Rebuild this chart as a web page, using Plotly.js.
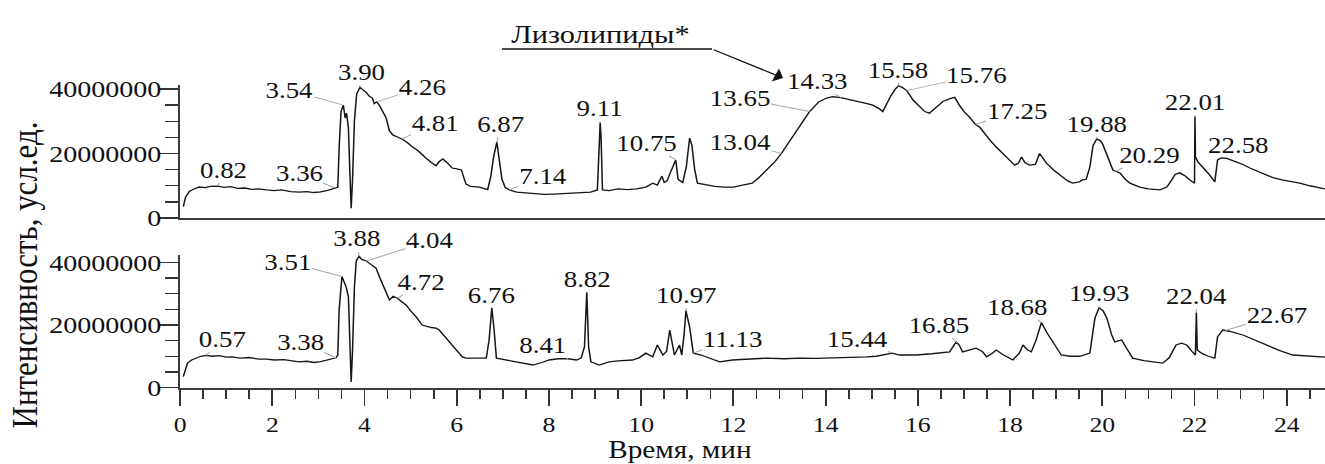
<!DOCTYPE html>
<html>
<head>
<meta charset="utf-8">
<script src="https://cdn.plot.ly/plotly-3.0.1.min.js"></script>
<style>
html,body{margin:0;padding:0;background:#fff;overflow:hidden;width:1325px;height:464px;}
#chart{width:1133px;height:464px;transform-origin:0 0;}
</style>
</head>
<body>
<div id="chart"></div>
<script>
// ---------------- DATA (time in min, intensity in millions of units) ----------------
const topTime = [0.07,0.12,0.20,0.30,0.41,0.55,0.65,0.82,0.95,1.10,1.25,1.40,1.55,1.70,1.87,2.05,2.20,2.40,2.58,2.75,2.90,3.05,3.20,3.30,3.36,3.42,3.45,3.49,3.54,3.58,3.61,3.65,3.68,3.71,3.74,3.78,3.83,3.90,3.96,4.03,4.10,4.17,4.21,4.26,4.32,4.40,4.47,4.54,4.62,4.70,4.81,4.92,5.04,5.15,5.25,5.33,5.45,5.55,5.62,5.70,5.80,5.90,6.00,6.10,6.20,6.30,6.49,6.60,6.67,6.74,6.80,6.87,6.92,6.98,7.05,7.14,7.30,7.50,7.70,7.90,8.10,8.30,8.50,8.70,8.90,9.05,9.09,9.11,9.13,9.16,9.30,9.50,9.70,9.90,10.10,10.25,10.35,10.45,10.50,10.56,10.63,10.75,10.80,10.90,10.98,11.05,11.10,11.16,11.22,11.35,11.45,11.60,11.80,12.00,12.20,12.41,12.55,12.71,12.90,13.04,13.20,13.43,13.65,13.72,13.85,14.02,14.15,14.33,14.50,14.74,14.90,15.02,15.15,15.24,15.32,15.40,15.50,15.58,15.66,15.76,15.90,16.04,16.15,16.25,16.40,16.55,16.70,16.80,16.90,17.00,17.12,17.25,17.34,17.45,17.56,17.70,17.84,17.95,18.10,18.18,18.25,18.32,18.42,18.55,18.64,18.72,18.79,18.95,19.14,19.25,19.36,19.50,19.57,19.65,19.73,19.80,19.88,19.95,20.00,20.10,20.23,20.29,20.38,20.50,20.60,20.81,21.00,21.25,21.40,21.46,21.58,21.68,21.80,21.90,22.00,22.01,22.02,22.07,22.18,22.30,22.44,22.50,22.58,22.70,22.90,23.05,23.20,23.40,23.56,23.70,23.90,24.10,24.28,24.50,24.72,24.83];
const topIntensity = [3.5,6.5,8.2,9.0,9.6,9.4,9.8,9.9,9.5,9.7,9.2,9.3,8.9,9.0,8.7,8.5,8.7,8.2,8.0,8.2,7.9,8.1,8.6,9.0,9.3,9.5,22,33,35,31,32.5,28,15,3.0,12,30,38.5,40.5,39.8,39.0,37.8,37.2,35.5,36.0,35.0,33,31,27,25.7,25.2,24.5,23.5,22.0,21.0,19.5,18.6,17.2,16.2,17.5,18.3,17.0,15.5,15.2,14.9,10.5,9.8,9.6,9.2,8.8,13,19,23.5,19,12,9.5,8.7,8.0,7.7,7.6,7.3,7.4,7.6,7.6,7.8,8.0,8.7,25,29.5,25,8.7,8.5,9.0,8.8,9.0,9.6,10.8,10.2,13.0,11.0,11.5,14,18.0,12,11,16,24.8,22.5,15,10.8,10.5,10.2,9.8,9.6,9.6,10.2,10.8,12.5,14.9,17.5,20.0,23.5,28.2,33.0,34,36,37.2,37.6,37.3,36.8,36.0,35.5,35.0,34.0,33.0,35.5,37.5,39.8,41.0,40.5,39.5,36.5,34.4,33.0,32.5,34.4,36.2,37.0,37.4,35.0,33.0,31.3,29.0,28.2,26.0,24.2,22.0,20.2,18.5,16.4,17,18.9,17.2,16.4,16.6,20.0,18.5,17.0,14.8,12.7,11.5,10.8,11.2,11.8,12.0,15.8,22.5,24.5,24.0,23.2,19.5,14.9,14.5,14.0,12.0,10.8,9.6,9.0,8.7,9.6,10.8,13.5,14.0,13.0,11.8,10.8,31.5,19.0,17.5,15.8,13.8,11.2,18.0,18.6,18.5,17.4,16.6,15.5,14.2,13.3,12.5,11.8,11.3,10.8,10.0,9.3,9.0];

const botTime = [0.07,0.12,0.16,0.25,0.35,0.45,0.57,0.70,0.85,1.00,1.13,1.30,1.50,1.70,1.87,2.05,2.25,2.40,2.58,2.75,2.90,3.05,3.20,3.30,3.38,3.42,3.45,3.51,3.56,3.60,3.65,3.68,3.71,3.74,3.78,3.82,3.88,3.94,4.04,4.10,4.18,4.25,4.32,4.38,4.46,4.54,4.62,4.72,4.80,4.90,5.00,5.12,5.25,5.35,5.45,5.55,5.62,5.70,5.77,5.90,6.00,6.12,6.20,6.40,6.64,6.70,6.76,6.81,6.86,7.00,7.28,7.45,7.65,7.85,8.00,8.20,8.41,8.60,8.70,8.77,8.82,8.86,8.91,9.09,9.30,9.50,9.81,9.95,10.10,10.25,10.35,10.47,10.55,10.62,10.72,10.83,10.88,10.93,10.97,11.05,11.13,11.30,11.41,11.55,11.70,11.98,12.30,12.71,13.10,13.43,13.80,14.15,14.50,14.89,15.10,15.24,15.44,15.60,15.97,16.30,16.69,16.83,16.90,16.97,17.10,17.26,17.40,17.49,17.60,17.70,17.85,18.06,18.20,18.28,18.38,18.46,18.56,18.68,18.80,18.86,18.98,19.11,19.30,19.51,19.73,19.84,19.93,20.02,20.10,20.20,20.27,20.42,20.55,20.66,20.90,21.10,21.31,21.45,21.60,21.72,21.83,21.95,22.02,22.04,22.06,22.15,22.30,22.44,22.50,22.61,22.75,23.05,23.30,23.56,23.85,24.13,24.45,24.78,24.83];
const botIntensity = [3.5,6.5,7.8,8.8,9.4,10.0,10.3,10.0,10.2,9.7,9.8,9.4,9.6,9.1,9.1,8.8,8.9,8.5,8.2,8.4,8.0,8.3,8.8,9.2,9.5,10.4,25,35.5,33.5,32.2,29,15,1.8,12,32,40.5,42.0,41.0,40.5,39.8,39.0,38.2,35.5,33.4,31,28.0,29.2,28.5,27.5,26.4,24.5,22.6,20.0,19.5,19.2,19.0,18.4,17,15.8,13.6,12,9.8,9.4,9.5,9.4,15,25.5,18.4,9.4,9.0,8.2,7.8,7.2,8.0,8.8,9.2,9.2,8.8,9.5,13,30.5,13,8.2,7.2,8.2,8.5,8.8,9.5,11.0,9.8,13.6,10.4,11.5,18.4,10.4,13.6,10.4,17,24.5,19.4,11.0,10.4,9.8,9.0,8.2,8.8,9.0,9.4,9.2,9.4,9.3,9.4,9.5,9.8,10.0,10.4,11.0,10.4,10.4,10.8,11.4,14.6,13.5,11.4,12.0,12.6,11.5,9.8,10.8,12.0,10.5,8.8,11,13.6,12.0,11.4,15,20.8,17.5,16.2,13.5,10.4,10.0,10.0,11.0,22.2,25.5,24.5,22.2,17,14.6,15.2,12.0,9.4,8.6,8.2,7.8,9.5,13.6,14.2,13.6,11.5,10.4,24.0,12,11.0,10.0,9.4,16.2,18.4,18.0,16.8,15.2,13.6,11.8,10.4,10.0,9.8,9.7];

// peak labels: [label, text centre x, text centre y] in page pixels
const topLabels = [['0.82',223,167],['3.36',299,170],['3.54',290,87],['3.90',361,69],['4.26',422,84],['4.81',435,120],['6.87',501,121],['7.14',543,173],['9.11',599,105],['10.75',647,140],['13.04',740,139],['13.65',740,95],['14.33',817,78],['15.58',898,67],['15.76',977,72],['17.25',1017,108],['19.88',1097,121],['20.29',1150,152],['22.01',1195,99],['22.58',1238,142]];
const botLabels = [['0.57',222,336],['3.38',300,339],['3.51',288,259],['3.88',357,236],['4.04',430,238],['4.72',421,279],['6.76',491,292],['8.41',543,342],['8.82',587,276],['10.97',686,292],['11.13',733,336],['15.44',857,336],['16.85',939,322],['18.68',1018,304],['19.93',1099,290],['22.04',1196,293],['22.67',1277,312]];

const yTitle = 'Интенсивность, усл.ед.';
const xTitle = 'Время, мин';
const groupLabel = 'Лизолипиды*';

// ---------------- LAYOUT GEOMETRY ----------------
const PAGE_W = 1325, W = 1133, H = 464, L = 154;
const S = PAGE_W / W;             // horizontal stretch of the original figure
const XMAX = 24.83;
const TOP_DOM = [1 - 218/H, 1 - 85/H];
const BOT_DOM = [1 - 387.5/H, 1 - 255/H];
const TOP_YMAX = 41.24e6, BOT_YMAX = 42.4e6;
const FONT = 'Liberation Serif, Times New Roman, serif';

document.getElementById('chart').style.transform = 'scaleX(' + S + ')';

function sx2paper(sx){ return (sx/S - L)/(W - L); }
function sx2t(sx){ return sx2paper(sx) * XMAX; }
function sy2paper(sy){ return 1 - sy/H; }
function sy2val(sy, dom, ymax){ return (sy2paper(sy) - dom[0])/(dom[1]-dom[0]) * ymax; }
function interp(xs, ys, x){
  for (let i = 1; i < xs.length; i++){
    if (xs[i] >= x){
      const f = (x - xs[i-1])/(xs[i]-xs[i-1]);
      return ys[i-1] + f*(ys[i]-ys[i-1]);
    }
  }
  return ys[ys.length-1];
}

const M = 1e6;
const traces = [
  {x: topTime, y: topIntensity.map(v => v*M), xaxis:'x', yaxis:'y', type:'scatter', mode:'lines',
   line:{color:'#161616', width:1.3}, hoverinfo:'skip'},
  {x: botTime, y: botIntensity.map(v => v*M), xaxis:'x2', yaxis:'y2', type:'scatter', mode:'lines',
   line:{color:'#161616', width:1.3}, hoverinfo:'skip'}
];

const annotations = [];
function addLabels(list, times, vals, xr, yr, dom, ymax){
  list.forEach(([txt, tx, ty]) => {
    const t = parseFloat(txt);
    annotations.push({
      x: t, y: interp(times, vals, t)*M, xref: xr, yref: yr,
      ax: sx2t(tx), ay: sy2val(ty + 3, dom, ymax), axref: xr, ayref: yr,
      text: txt, showarrow: true, arrowhead: 0, arrowwidth: 1, arrowcolor: '#a9a9a9',
      standoff: 0, startstandoff: 0, borderpad: 0,
      font: {family: FONT, size: 23, color: '#111'}
    });
  });
}
addLabels(topLabels, topTime, topIntensity, 'x', 'y', TOP_DOM, TOP_YMAX);
addLabels(botLabels, botTime, botIntensity, 'x2', 'y2', BOT_DOM, BOT_YMAX);

annotations.push({xref:'paper', yref:'paper', x: sx2paper(24), y: sy2paper(275), text: yTitle,
  textangle: -90, showarrow:false, xanchor:'center', yanchor:'middle', borderpad:0,
  font:{family:FONT, size:31, color:'#111'}});
annotations.push({xref:'paper', yref:'paper', x: sx2paper(680), y: sy2paper(464), text: xTitle,
  showarrow:false, xanchor:'center', yanchor:'bottom', borderpad:0,
  font:{family:FONT, size:25, color:'#111'}});
annotations.push({xref:'paper', yref:'paper', x: sx2paper(600), y: sy2paper(34), text: groupLabel,
  showarrow:false, xanchor:'center', yanchor:'middle', font:{family:FONT, size:26, color:'#111'}});
annotations.push({xref:'paper', yref:'paper', x: sx2paper(783), y: sy2paper(78), text: '',
  showarrow:true, axref:'pixel', ayref:'pixel', ax: (712-783)/S, ay: 49-78,
  arrowhead:1, arrowsize:2, arrowwidth:1.2, arrowcolor:'#111', standoff:0});

const shapes = [
  {type:'line', xref:'paper', yref:'paper', x0: sx2paper(502), x1: sx2paper(712),
   y0: sy2paper(49), y1: sy2paper(49), line:{color:'#111', width:1.3}}
];

const axisLine = {color:'#3c3c3c', width:2.2};
const yCommon = {showgrid:false, zeroline:false,
          showline:true, linecolor:axisLine.color, linewidth:axisLine.width,
          ticks:'outside', ticklen:16, tickwidth:1.6, tickcolor:'#333',
          tick0:0, dtick:20e6, tickformat:'d', ticklabelstandoff:-7,
          tickfont:{family:FONT, size:24, color:'#111'},
          minor:{dtick:5e6, tick0:0, ticks:'outside', ticklen:11, tickwidth:1.4, tickcolor:'#333', showgrid:false}};
const layout = {
  width: W, height: H,
  margin: {l: L, r: 0, t: 0, b: 0},
  paper_bgcolor: '#fff', plot_bgcolor: '#fff',
  showlegend: false,
  font: {family: FONT, color: '#111'},
  xaxis: {domain:[0,1], anchor:'y', range:[0, XMAX], showgrid:false, zeroline:false,
          showline:true, linecolor:axisLine.color, linewidth:axisLine.width,
          ticks:'', showticklabels:false, fixedrange:true},
  yaxis: Object.assign({domain: TOP_DOM, anchor:'x', range:[0, TOP_YMAX]}, yCommon),
  xaxis2: {domain:[0,1], anchor:'y2', range:[0, XMAX], showgrid:false, zeroline:false,
          showline:true, linecolor:axisLine.color, linewidth:axisLine.width,
          ticks:'outside', ticklen:16, tickwidth:1.6, tickcolor:'#333', tick0:0, dtick:2,
          tickfont:{family:FONT, size:22, color:'#111'},
          minor:{dtick:0.5, tick0:0, ticks:'outside', ticklen:9, tickwidth:1.4, tickcolor:'#333', showgrid:false}},
  yaxis2: Object.assign({domain: BOT_DOM, anchor:'x2', range:[0, BOT_YMAX]}, yCommon),
  annotations: annotations,
  shapes: shapes
};

Plotly.newPlot('chart', traces, layout, {staticPlot:true, displayModeBar:false});
</script>
</body>
</html>
